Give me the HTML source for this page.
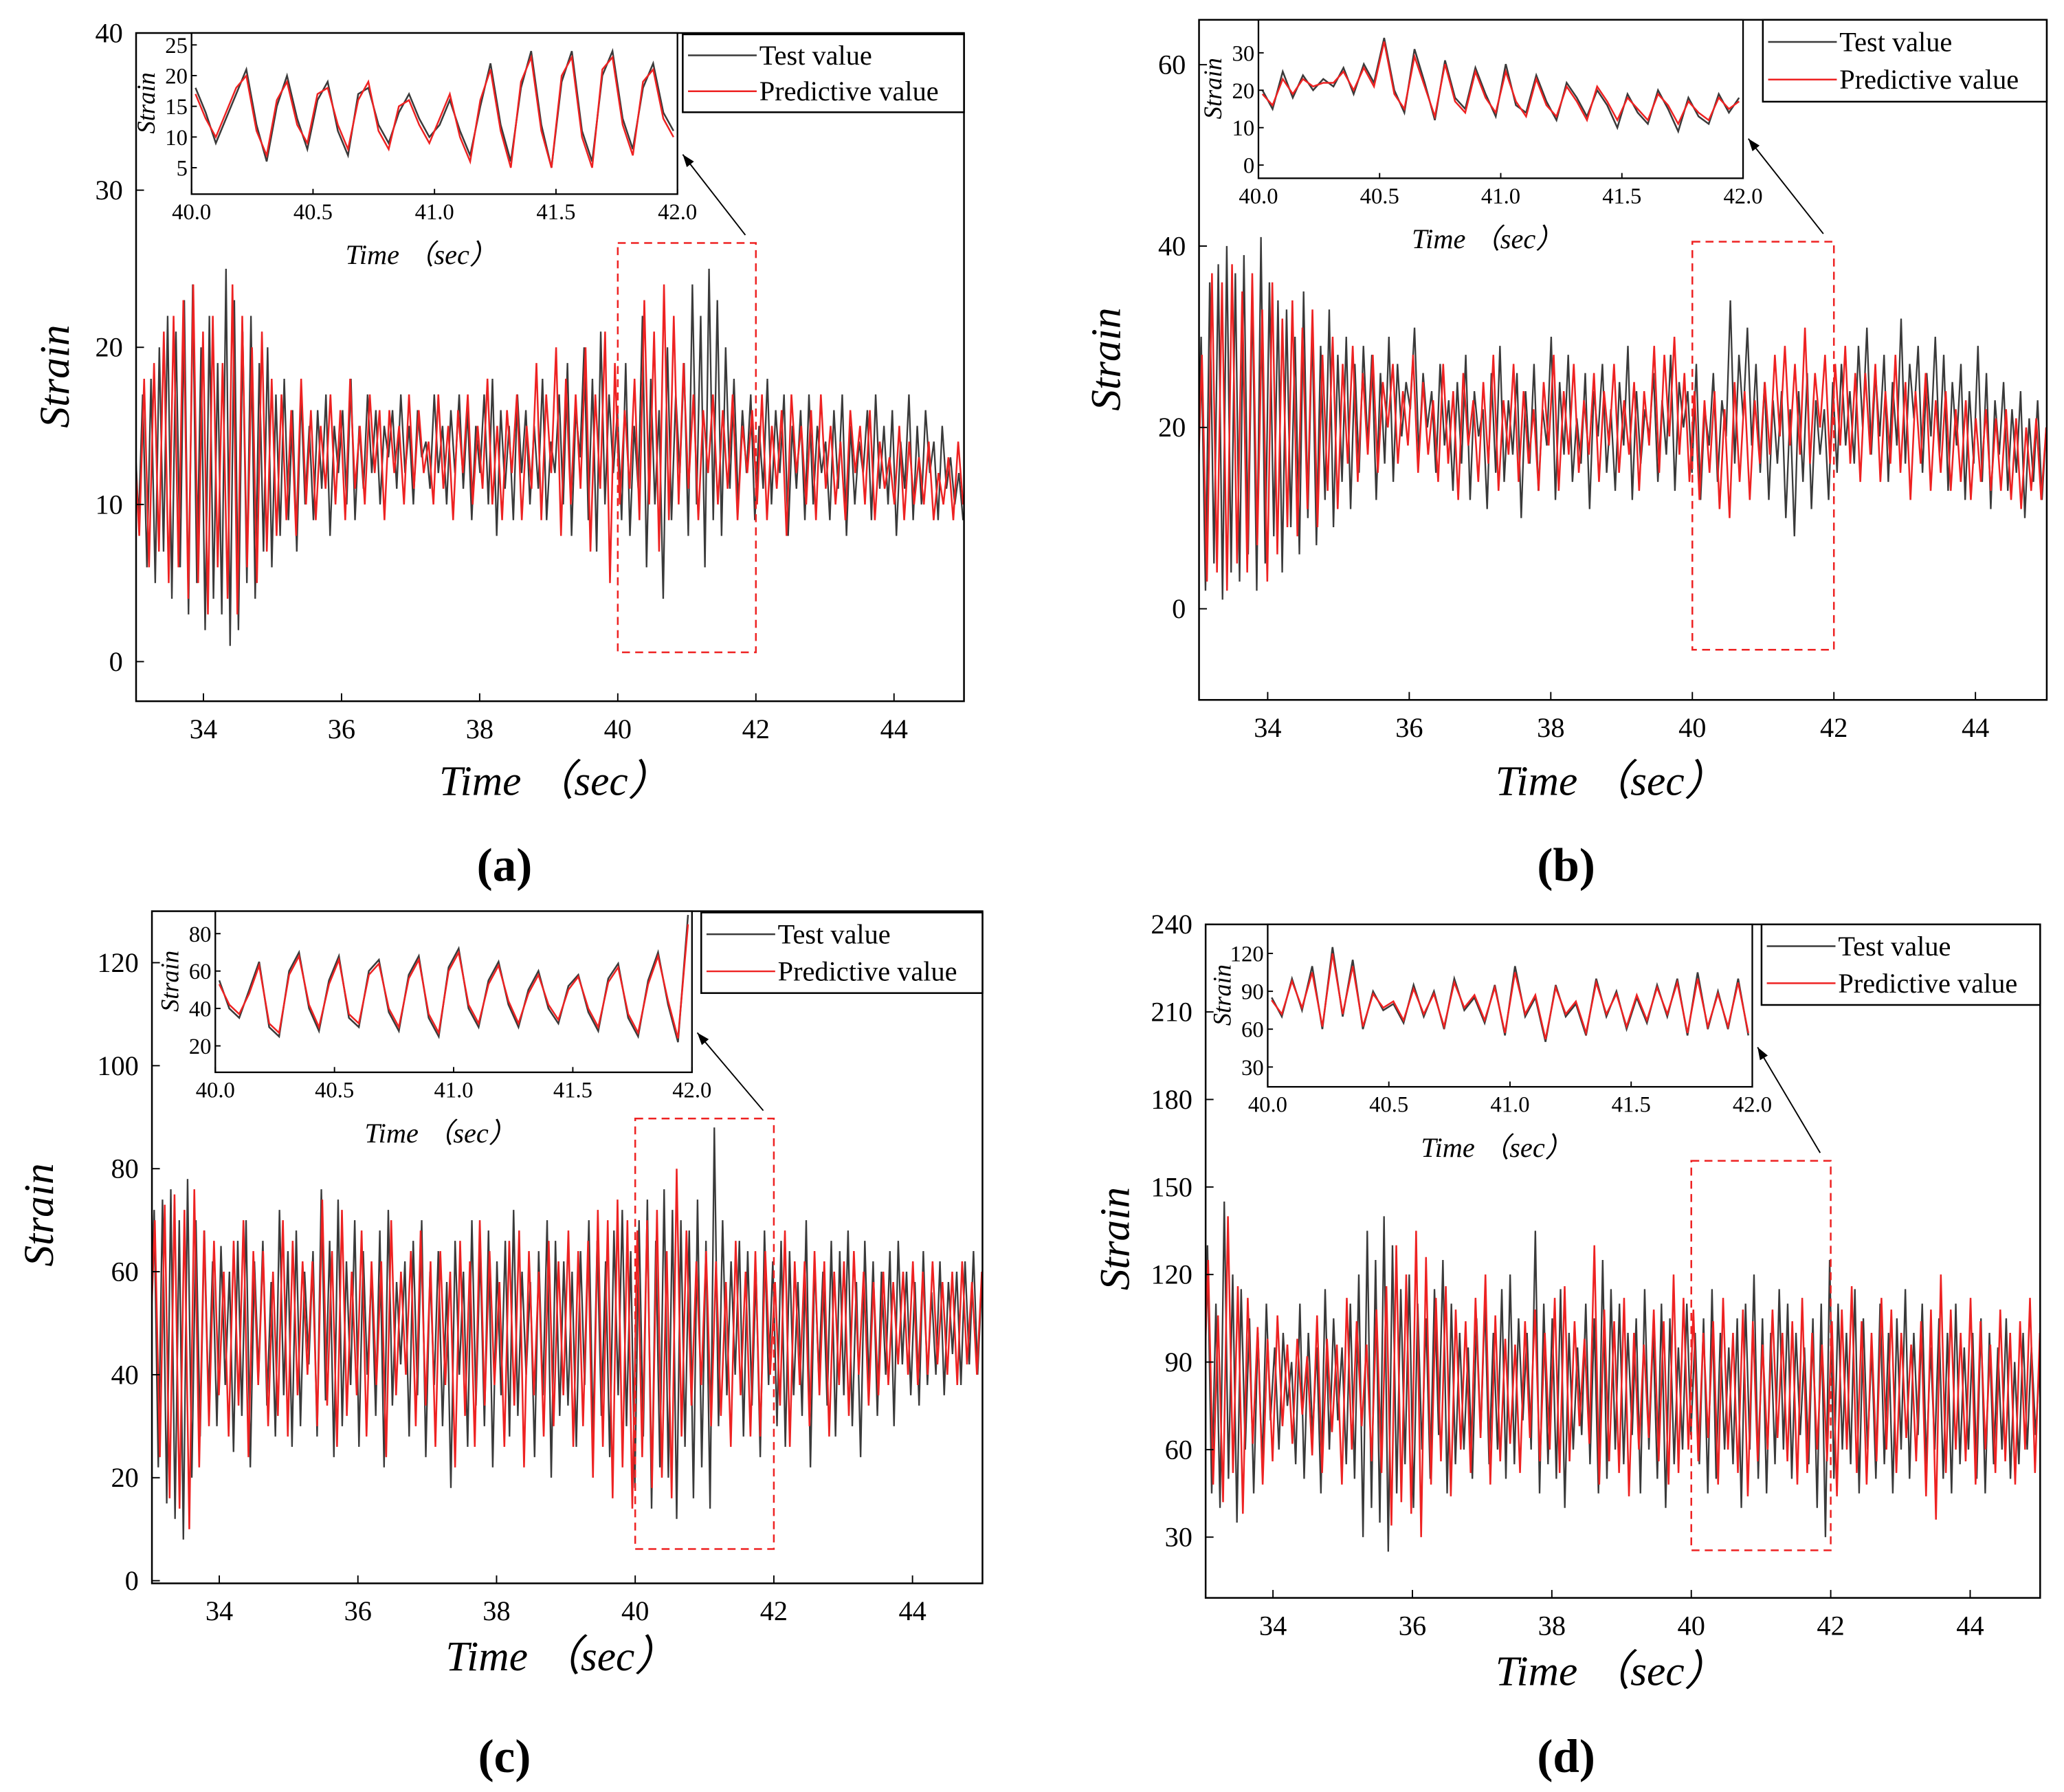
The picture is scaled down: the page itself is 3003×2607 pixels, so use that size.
<!DOCTYPE html>
<html><head><meta charset="utf-8">
<style>
html,body{margin:0;padding:0;background:#fff;}
svg{display:block;font-family:"Liberation Serif",serif;}
</style></head>
<body>
<svg id="fig" width="3003" height="2607" viewBox="0 0 1563 1357" xmlns="http://www.w3.org/2000/svg">
<rect x="0" y="0" width="1563" height="1357" fill="#fff"/>
</svg>
<script>
// ---- data (strain values, evenly sampled over the time range) ----
const mainTicksX = [34,36,38,40,42,44];
const insetTicksX = ["40.0","40.5","41.0","41.5","42.0"];
const aTicksY = [0,10,20,30,40];
const bTicksY = [0,20,40,60];
const cTicksY = [0,20,40,60,80,100,120];
const dTicksY = [30,60,90,120,150,180,210,240];
const aInTicksY = [5,10,15,20,25];
const bInTicksY = [0,10,20,30];
const cInTicksY = [20,40,60,80];
const dInTicksY = [30,60,90,120];

const aTest = [15,9,17,6,18,5,20,7,22,4,21,6,23,3,24,5,20,2,22,4,
19,3,25,1,23,2,21,5,22,4,19,7,20,6,17,8,18,9,16,7,
17,10,15,9,16,11,17,8,15,12,16,10,18,9,15,11,17,12,16,10,
15,13,16,11,17,12,15,10,16,13,14,11,17,12,15,10,16,12,17,11,
16,9,15,12,17,10,18,8,16,11,15,9,17,12,16,10,15,11,18,9,
14,12,17,10,19,8,16,13,20,9,18,7,21,10,17,12,16,9,19,8,
15,11,22,6,18,10,16,4,20,9,17,12,19,8,24,10,22,6,25,9,
23,8,20,11,18,10,16,12,17,9,15,11,18,10,16,12,17,8,15,11,
16,9,17,10,15,12,14,9,16,11,17,8,15,10,14,12,16,9,17,11,
15,10,16,8,14,11,17,9,15,10,16,12,14,9,15,11,13,10,12,9];
const aPred = [14,8,18,6,19,7,21,5,22,6,23,4,24,5,21,3,22,6,19,4,
24,3,22,6,20,5,21,7,18,8,17,9,16,8,18,10,16,9,15,11,
17,10,16,9,18,11,15,10,17,12,16,9,16,12,15,10,17,11,16,12,
14,10,17,11,15,9,16,12,17,10,15,11,18,10,15,9,16,12,17,9,
15,11,19,9,17,12,20,8,18,10,17,11,20,7,17,11,21,5,19,10,
16,11,18,9,23,10,21,7,24,9,22,10,19,11,17,9,16,12,17,10,
16,11,17,9,15,12,16,10,17,9,15,11,16,8,17,12,15,10,16,9,
17,11,15,10,14,9,16,12,15,10,16,9,14,11,13,10,15,9,14,10,
13,10,14,9,12,10,13,9,14,10];
const aInTest = [18,14,9,13,17,21,12,6,15,20,13,8,16,19,11,7,17,18,12,9,14,17,13,10,12,16,11,7,15,22,12,6,18,24,12,5,19,24,11,6,20,24,13,8,18,22,14,11];
const aInPred = [17,13,10,14,18,20,11,7,16,19,12,9,17,18,12,8,16,19,11,8,15,16,12,9,13,17,10,6,16,21,11,5,19,23,11,5,20,23,10,5,21,23,12,7,19,21,13,10];

const bTest = [12,30,2,36,5,38,1,40,4,37,3,39,6,35,2,41,5,36,8,34,
4,33,9,30,6,35,10,31,7,29,12,33,9,28,14,30,11,27,15,29,
18,28,12,26,16,30,14,27,19,25,22,31,17,26,20,24,15,27,18,23,
13,25,16,28,12,24,19,22,11,26,15,29,14,23,17,26,10,24,16,27,
13,22,18,30,12,25,17,28,14,21,16,26,11,24,19,27,15,22,13,25,
18,29,12,24,16,22,19,26,14,23,17,28,13,25,20,24,15,27,12,22,
18,26,14,23,19,34,16,28,21,31,18,27,15,25,12,23,16,24,10,22,
8,24,14,26,11,23,17,22,12,25,15,27,18,24,16,29,20,31,17,26,
19,28,14,25,18,32,16,27,21,29,15,26,19,30,17,28,13,25,18,27,
12,24,16,29,14,26,11,23,17,25,13,22,15,24,10,21,14,23,12,20];
const bPred = [10,28,3,37,4,36,2,38,5,35,4,37,7,33,3,36,6,32,9,34,
8,31,11,33,9,28,13,30,11,27,16,29,14,26,17,28,15,25,20,27,
16,24,18,28,15,25,17,23,14,27,16,24,12,26,18,23,14,25,16,28,
13,23,17,27,14,24,16,22,13,25,18,28,13,24,17,27,15,23,17,26,
14,24,18,27,15,23,17,25,13,24,18,29,15,28,19,30,17,26,14,24,
12,23,15,24,11,22,10,25,14,24,12,23,16,25,17,28,19,29,18,27,
17,31,16,26,20,28,16,27,18,29,16,26,14,26,17,27,14,24,16,28,
15,25,12,24,16,26,13,23,15,24,13,22,14,23,12,21,14,22,13,21,
13,22,12,21,11,20,13,21,12,20];
const bInTest = [20,15,25,18,24,20,23,21,26,19,27,22,34,20,14,31,22,12,28,18,15,26,19,13,27,16,14,24,17,12,22,18,13,20,16,10,19,14,11,20,15,9,18,13,11,19,14,18];
const bInPred = [19,16,23,19,23,21,22,22,25,20,26,21,33,19,15,29,21,13,27,17,14,25,18,14,25,17,13,23,16,13,21,17,12,21,17,12,18,15,12,19,16,11,17,14,12,18,15,17];

const cTest = [45,72,22,74,15,76,12,70,8,78,20,70,28,68,35,62,30,65,38,60,
25,66,32,70,22,62,40,66,34,58,28,72,36,64,26,68,30,60,42,64,
28,76,35,66,24,74,30,62,38,70,26,64,40,60,32,68,22,72,34,58,
42,62,28,66,36,70,24,60,38,64,30,58,18,66,40,60,26,70,34,64,
30,68,22,62,36,66,28,72,32,60,40,58,24,64,36,70,20,66,32,62,
34,60,26,64,38,70,28,66,32,62,24,68,36,72,30,64,18,70,28,74,
14,66,22,76,20,72,12,70,26,68,16,74,22,66,14,88,30,70,36,62,
40,66,28,64,34,60,24,68,38,62,30,66,26,64,36,58,32,70,22,62,
40,60,34,66,28,64,36,68,30,58,24,66,38,62,32,60,40,64,30,66,
42,60,36,58,34,64,38,56,40,62,36,58,44,60,38,62,42,64,40,58];
const cPred = [44,70,24,73,16,75,14,72,10,76,22,68,30,66,36,60,28,66,34,70,
24,64,38,64,30,60,32,70,28,66,36,62,40,62,30,74,34,64,26,72,
32,60,36,68,28,62,38,62,24,70,36,60,40,64,30,68,34,62,26,64,
38,60,22,66,32,62,26,70,34,64,38,58,26,66,34,68,22,64,36,60,
28,66,30,62,36,68,26,64,30,66,20,72,26,70,16,74,22,70,14,68,
24,70,18,72,20,64,16,80,28,68,34,62,38,64,30,62,32,58,26,66,
36,60,28,64,28,64,40,58,34,68,26,62,38,62,30,64,36,62,28,60,
38,62,32,64,40,60,34,58,36,60,38,58,42,60,40,62,38,60,40,62,
42,58,40,60,38,62,42,58,40,60];
const cInTest = [55,40,35,50,65,30,25,60,70,40,28,55,68,35,30,60,66,38,28,58,68,35,25,62,72,40,30,55,65,42,30,50,60,40,32,52,58,38,28,56,64,35,25,55,70,42,22,90];
const cInPred = [53,42,37,48,63,32,27,58,68,42,30,53,66,37,32,58,64,40,30,56,66,37,27,60,70,42,32,53,63,44,32,48,58,42,34,50,57,40,30,54,62,37,27,53,68,44,24,85];

const dTest = [70,130,45,110,40,145,50,120,35,115,60,105,45,100,55,110,70,95,60,100,
75,90,55,110,50,100,65,95,45,115,60,105,70,95,55,110,50,120,30,135,
40,125,35,140,25,130,45,115,55,120,40,110,60,105,50,115,65,125,45,110,
55,100,60,95,50,105,65,110,55,100,60,115,50,120,55,105,70,100,60,135,
45,110,55,105,50,115,40,100,60,95,65,110,55,105,45,125,50,115,60,110,
55,100,65,105,45,115,60,100,50,110,40,105,55,95,60,110,65,100,55,105,
45,115,50,100,60,95,55,105,40,110,60,120,50,105,45,100,55,115,60,110,
50,100,65,95,55,105,40,110,30,125,50,110,60,100,55,115,45,105,60,95,
50,110,55,100,45,105,60,115,50,100,65,110,55,95,60,105,50,100,45,110,
55,95,60,100,50,105,45,100,55,95,60,105,50,90,55,100,60,95,65,90];
const dPred = [72,125,48,106,42,140,52,116,38,112,62,102,48,98,56,106,68,96,62,98,
72,92,58,106,52,98,66,96,48,112,60,104,68,96,56,108,52,116,34,130,
42,120,38,135,30,126,48,112,56,116,44,108,60,104,52,112,64,120,48,106,
56,98,62,96,52,104,64,108,56,100,60,112,52,116,56,104,68,98,62,130,
48,108,56,104,52,112,44,100,60,96,64,108,56,104,48,120,52,112,60,108,
56,100,64,104,48,112,60,100,52,108,44,104,56,96,60,108,64,100,56,104,
48,112,52,100,60,96,56,104,44,108,60,116,52,104,48,100,56,112,60,108,
52,100,64,96,56,104,44,108,36,120,52,108,60,100,56,112,48,104,60,96,
52,108,56,100,48,104,60,112,52,100];
const dInTest = [85,70,100,75,110,60,125,70,115,60,90,75,80,65,95,70,90,60,100,75,85,65,95,55,110,70,85,50,95,70,80,55,100,70,90,60,85,65,95,70,100,55,105,60,90,60,100,55];
const dInPred = [83,72,98,77,105,62,120,72,110,62,88,77,82,67,92,72,88,62,97,77,87,67,93,57,105,72,87,52,93,72,82,57,97,72,88,62,87,67,93,72,97,57,100,62,88,62,97,57];

// ---- layout (not data) ----
const NS = "http://www.w3.org/2000/svg";
const svg = document.getElementById("fig");
function mk(tag, attrs, parent){
  const e = document.createElementNS(NS, tag);
  for (const k in attrs) e.setAttribute(k, attrs[k]);
  (parent||svg).appendChild(e);
  return e;
}
function txt(s, attrs, parent){ const t = mk("text", attrs, parent); t.textContent = s; return t; }

function linePath(vals, x0, x1, sy){
  const n = vals.length;
  let d = "";
  vals.forEach((v,i)=>{ const x = x0 + (x1-x0)*i/(n-1); d += (i?"L":"M")+x.toFixed(1)+","+sy(v).toFixed(1); });
  return d;
}

function panel(p){
  const g = mk("g", {});
  
  
  const sx = t => p.px0 + (t - p.tx0) * (p.px1 - p.px0) / (p.tx1 - p.tx0);
  const sy = v => p.py0 + (v - p.vy0) * (p.py1 - p.py0) / (p.vy1 - p.vy0);
  const cp = mk("clipPath", {id:"clip"+p.id}, g);
  mk("rect", {x:p.L, y:p.T, width:p.R-p.L, height:p.B-p.T}, cp);
  const series = mk("g", {"clip-path":"url(#clip"+p.id+")"}, g);
  const st = mk("path", {d:linePath(p.test, sx(33), sx(45), sy), fill:"none", stroke:"#3a3a3a", "stroke-width":1.2}, series);
  
  
  const sp = mk("path", {d:linePath(p.pred, sx(33), sx(45), sy), fill:"none", stroke:"#ee2222", "stroke-width":1.3}, series);
  
  
  const fr = mk("rect", {x:p.L, y:p.T, width:p.R-p.L, height:p.B-p.T, fill:"none", stroke:"#000", "stroke-width":1.3}, g);
  
  
  mainTicksX.forEach(t=>{
    const x = sx(t);
    mk("line", {x1:x, y1:p.B, x2:x, y2:p.B-6, stroke:"#000"}, g);
    const l = txt(String(t), {x:x, y:p.B+28, "font-size":21, "text-anchor":"middle"}, g);
    
    
  });
  p.ticksY.forEach(v=>{
    const y = sy(v);
    mk("line", {x1:p.L, y1:y, x2:p.L+6, y2:y, stroke:"#000"}, g);
    const l = txt(String(v), {x:p.L-10, y:y+7, "font-size":21, "text-anchor":"end"}, g);
    
    
  });
  const xt = txt("Time （sec）", {x:p.xtX, y:p.xtY, "font-size":32, "font-style":"italic", "text-anchor":"middle"}, g);
  
  
  const yt = txt("Strain", {x:0, y:0, "font-size":32, "font-style":"italic", "text-anchor":"middle", transform:"translate("+p.ytX+","+p.ytY+") rotate(-90)"}, g);
  
  
  const cap = txt("("+p.id+")", {x:p.capX, y:p.capY, "font-size":36, "font-weight":"bold", "text-anchor":"middle"}, g);
  
  
  const dz = mk("rect", {x:sx(40), y:p.dzT, width:sx(42)-sx(40), height:p.dzB-p.dzT, fill:"none", stroke:"#ee2222", "stroke-width":1.3, "stroke-dasharray":"6,4"}, g);
  
  
  const ax2 = p.in.R+4, ay2 = p.in.B - 30;
  const ar = mk("line", {x1:sx(42)-8, y1:p.dzT-6, x2:ax2, y2:ay2, stroke:"#000", "stroke-width":1}, g);
  
  
  const ang = Math.atan2(ay2-(p.dzT-6), ax2-(sx(42)-8));
  const hx = ax2, hy = ay2;
  mk("polygon", {points: hx+","+hy+" "+(hx-10*Math.cos(ang-0.35))+","+(hy-10*Math.sin(ang-0.35))+" "+(hx-10*Math.cos(ang+0.35))+","+(hy-10*Math.sin(ang+0.35)), fill:"#000"}, g);
  const I = p.in;
  const ix = t => I.L + (t-40)*(I.R-I.L)/2;
  const iy = v => I.py0 + (v - I.vy0)*(I.py1 - I.py0)/(I.vy1 - I.vy0);
  const ig = mk("g", {}, g);
  
  
  mk("rect", {x:I.L, y:I.T, width:I.R-I.L, height:I.B-I.T, fill:"#fff"}, ig);
  const icp = mk("clipPath", {id:"iclip"+p.id}, ig);
  mk("rect", {x:I.L, y:I.T, width:I.R-I.L, height:I.B-I.T}, icp);
  const is = mk("g", {"clip-path":"url(#iclip"+p.id+")"}, ig);
  mk("path", {d:linePath(p.inTest, ix(40)+3, ix(42)-3, iy), fill:"none", stroke:"#3a3a3a", "stroke-width":1.3}, is);
  mk("path", {d:linePath(p.inPred, ix(40)+3, ix(42)-3, iy), fill:"none", stroke:"#ee2222", "stroke-width":1.3}, is);
  mk("rect", {x:I.L, y:I.T, width:I.R-I.L, height:I.B-I.T, fill:"none", stroke:"#000", "stroke-width":1.2}, ig);
  insetTicksX.forEach(s=>{
    const x = ix(parseFloat(s));
    mk("line", {x1:x, y1:I.B, x2:x, y2:I.B-4, stroke:"#000"}, ig);
    txt(s, {x:x, y:I.B+19, "font-size":17, "text-anchor":"middle"}, ig);
  });
  p.inTicksY.forEach(v=>{
    const y = iy(v);
    mk("line", {x1:I.L, y1:y, x2:I.L+4, y2:y, stroke:"#000"}, ig);
    txt(String(v), {x:I.L-3, y:y+6, "font-size":17, "text-anchor":"end"}, ig);
  });
  txt("Time （sec）", {x:(I.L+I.R)/2 - 10, y:I.B+53, "font-size":21, "font-style":"italic", "text-anchor":"middle"}, ig);
  txt("Strain", {x:0, y:0, "font-size":19, "font-style":"italic", "text-anchor":"middle", transform:"translate("+(I.L-28)+","+((I.T+I.B)/2-8)+") rotate(-90)"}, ig);
  const Lg = p.leg;
  const lg = mk("g", {}, g);
  
  
  mk("rect", {x:Lg.L, y:Lg.T, width:Lg.R-Lg.L, height:Lg.B-Lg.T, fill:"#fff", stroke:"#000", "stroke-width":1.3}, lg);
  const h = (Lg.B-Lg.T);
  mk("line", {x1:Lg.L+4, y1:Lg.T+h*0.27, x2:Lg.L+56, y2:Lg.T+h*0.27, stroke:"#3a3a3a", "stroke-width":1.3}, lg);
  txt("Test value", {x:Lg.L+58, y:Lg.T+h*0.27+7, "font-size":21}, lg);
  mk("line", {x1:Lg.L+4, y1:Lg.T+h*0.73, x2:Lg.L+56, y2:Lg.T+h*0.73, stroke:"#ee2222", "stroke-width":1.3}, lg);
  txt("Predictive value", {x:Lg.L+58, y:Lg.T+h*0.73+7, "font-size":21}, lg);
}

panel({id:"a", L:103,T:25,R:730,B:531, tx0:34,tx1:44,px0:154,px1:677, vy0:0,vy1:40,py0:501,py1:25,
  ticksY:aTicksY, test:aTest, pred:aPred, inTest:aInTest, inPred:aInPred, inTicksY:aInTicksY,
  xtX:420,xtY:602, ytX:52,ytY:285, capX:382,capY:667, dzT:184,dzB:494,
  in:{L:145,T:25,R:513,B:147,vy0:5,vy1:25,py0:127,py1:34}, leg:{L:517,T:26,R:730,B:85}});
panel({id:"b", L:908,T:15,R:1550,B:530, tx0:34,tx1:44,px0:960,px1:1496, vy0:0,vy1:60,py0:461,py1:49,
  ticksY:bTicksY, test:bTest, pred:bPred, inTest:bInTest, inPred:bInPred, inTicksY:bInTicksY,
  xtX:1220,xtY:602, ytX:848,ytY:272, capX:1186,capY:667, dzT:183,dzB:492,
  in:{L:953,T:15,R:1320,B:135,vy0:0,vy1:30,py0:125,py1:40}, leg:{L:1335,T:15,R:1550,B:77}});
panel({id:"c", L:115,T:690,R:744,B:1199, tx0:34,tx1:44,px0:166,px1:691, vy0:0,vy1:120,py0:1197,py1:729,
  ticksY:cTicksY, test:cTest, pred:cPred, inTest:cInTest, inPred:cInPred, inTicksY:cInTicksY,
  xtX:425,xtY:1265, ytX:40,ytY:920, capX:382,capY:1342, dzT:847,dzB:1173,
  in:{L:163,T:690,R:524,B:812,vy0:20,vy1:80,py0:792,py1:707}, leg:{L:531,T:691,R:744,B:752}});
panel({id:"d", L:913,T:700,R:1545,B:1210, tx0:34,tx1:44,px0:964,px1:1492, vy0:30,vy1:240,py0:1164,py1:700,
  ticksY:dTicksY, test:dTest, pred:dPred, inTest:dInTest, inPred:dInPred, inTicksY:dInTicksY,
  xtX:1220,xtY:1276, ytX:855,ytY:938, capX:1186,capY:1342, dzT:879,dzB:1174,
  in:{L:960,T:700,R:1327,B:823,vy0:30,vy1:120,py0:808,py1:722}, leg:{L:1334,T:700,R:1545,B:761}});
</script>
</body></html>
